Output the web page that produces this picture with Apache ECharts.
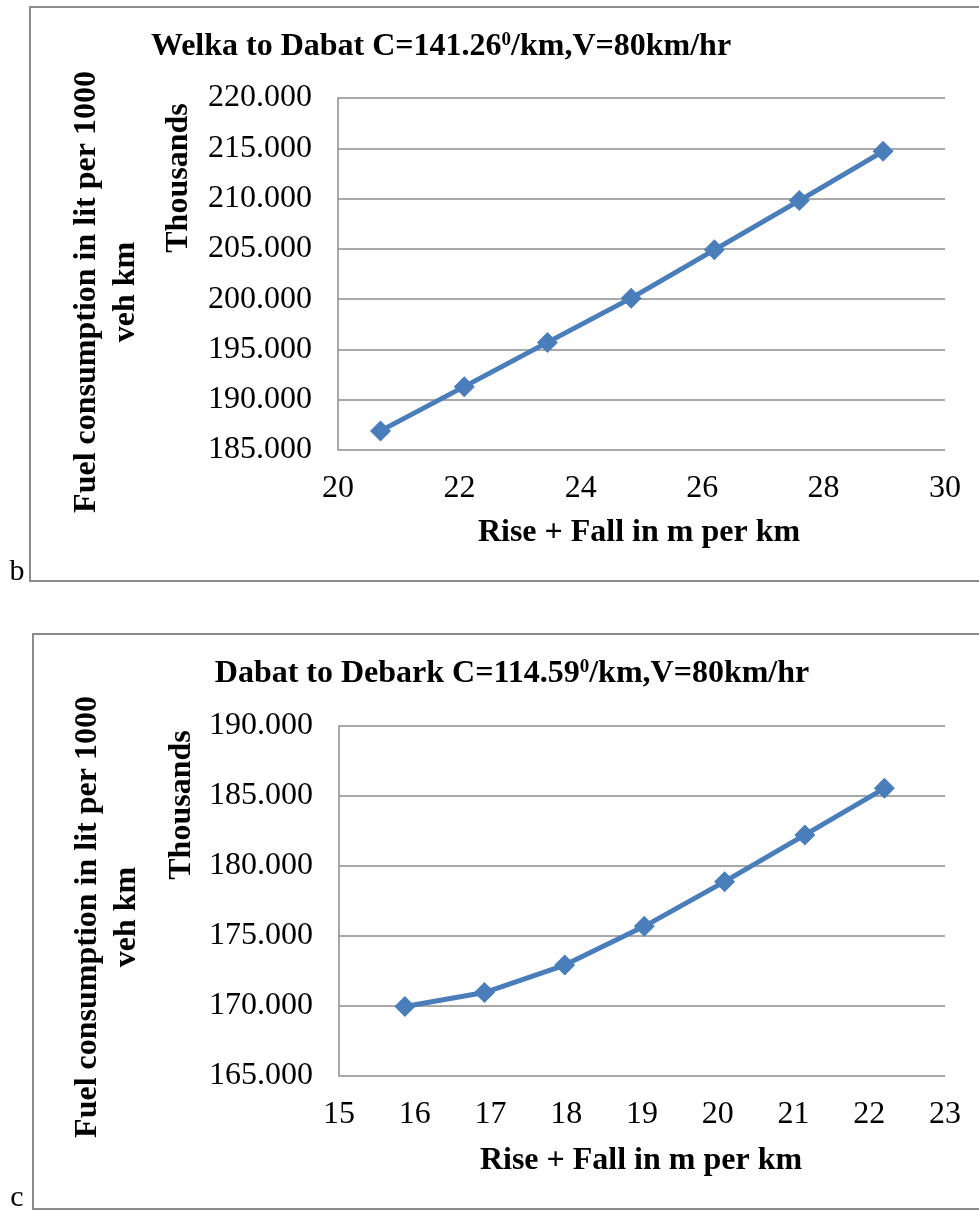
<!DOCTYPE html>
<html>
<head>
<meta charset="utf-8">
<script src="https://cdn.jsdelivr.net/npm/echarts@6/dist/echarts.min.js"></script>
<style>
html,body{margin:0;padding:0;background:#fff;}
#c{width:979px;height:1211px;}
</style>
</head>
<body>
<div id="c"></div>
<script>
// Chart b: Welka to Dabat
const xB = [20.70, 22.08, 23.45, 24.83, 26.20, 27.60, 28.98];
const yB = [186900, 191300, 195700, 200100, 204900, 209800, 214700];
const titleB = 'Welka to Dabat C=141.26{sup|0}/km,V=80km/hr';

// Chart c: Dabat to Debark
const xC = [15.87, 16.92, 17.98, 19.03, 20.09, 21.15, 22.20];
const yC = [169970, 170960, 172920, 175690, 178880, 182220, 185550];
const titleC = 'Dabat to Debark C=114.59{sup|0}/km,V=80km/hr';

const xAxisTitle = 'Rise + Fall in m per km';
const yAxisTitle = 'Fuel consumption in lit per 1000\nveh km';
const unitTitle = 'Thousands';

const SERIF = '"Liberation Serif", "Times New Roman", serif';
const GRID_C = '#8c8c8c';
const LINE_C = '#4a7ebb';

function xAxisCfg(idx, min, max, interval) {
  return {
    type: 'value', gridIndex: idx, min: min, max: max, interval: interval,
    axisLine: { show: false },
    axisTick: { show: false },
    splitLine: { show: false },
    axisLabel: { color: '#000', fontFamily: SERIF, fontSize: 32, margin: 23 }
  };
}
function yAxisCfg(idx, min, max, interval) {
  return {
    type: 'value', gridIndex: idx, min: min, max: max, interval: interval,
    axisLine: { show: true, lineStyle: { color: GRID_C, width: 1.5 } },
    axisTick: { show: false },
    splitLine: { show: true, lineStyle: { color: GRID_C, width: 1.5 } },
    axisLabel: { color: '#000', fontFamily: SERIF, fontSize: 32, margin: 26,
      formatter: v => (v / 1000).toFixed(3) }
  };
}
function seriesCfg(idx, xs, ys) {
  return {
    type: 'line', xAxisIndex: idx, yAxisIndex: idx,
    data: xs.map((x, i) => [x, ys[i]]),
    symbol: 'diamond', symbolSize: 21,
    lineStyle: { color: LINE_C, width: 5 },
    itemStyle: { color: LINE_C },
    animation: false
  };
}
function txt(x, y, text, opts) {
  return Object.assign({
    type: 'text', x: x, y: y, silent: true,
    style: Object.assign({ text: text, fill: '#000', font: 'bold 32px ' + SERIF,
      textAlign: 'center', textVerticalAlign: 'middle' }, opts && opts.style || {})
  }, opts && opts.el || {});
}
const supRich = { sup: { fontSize: 19, fontWeight: 'bold', fontFamily: SERIF, verticalAlign: 'top', padding: [0, 0, 14, 0] } };

const chart = echarts.init(document.getElementById('c'), null, { renderer: 'canvas' });
chart.setOption({
  backgroundColor: '#fff',
  animation: false,
  grid: [
    { left: 338, top: 98, width: 607, height: 352 },
    { left: 339, top: 726, width: 606, height: 350 }
  ],
  xAxis: [ xAxisCfg(0, 20, 30, 2), xAxisCfg(1, 15, 23, 1) ],
  yAxis: [ yAxisCfg(0, 185000, 220000, 5000), yAxisCfg(1, 165000, 190000, 5000) ],
  series: [ seriesCfg(0, xB, yB), seriesCfg(1, xC, yC) ],
  graphic: [
    { type: 'polyline', silent: true, shape: { points: [[1000, 7], [30, 7], [30, 581], [1000, 581]] },
      style: { stroke: GRID_C, lineWidth: 2, fill: null } },
    { type: 'polyline', silent: true, shape: { points: [[1000, 634], [33, 634], [33, 1209], [1000, 1209]] },
      style: { stroke: GRID_C, lineWidth: 2, fill: null } },
    txt(441, 47, titleB, { style: { font: 'bold 32px ' + SERIF, rich: supRich } }),
    txt(512, 674, titleC, { style: { font: 'bold 32px ' + SERIF, rich: supRich } }),
    txt(639, 533, xAxisTitle),
    txt(641, 1161, xAxisTitle),
    txt(179, 178, unitTitle, { el: { rotation: Math.PI / 2 } }),
    txt(182, 805, unitTitle, { el: { rotation: Math.PI / 2 } }),
    txt(106, 292, yAxisTitle, { style: { lineHeight: 39 }, el: { rotation: Math.PI / 2 } }),
    txt(107, 917, yAxisTitle, { style: { lineHeight: 39 }, el: { rotation: Math.PI / 2 } }),
    txt(17, 572, 'b', { style: { font: '30px ' + SERIF } }),
    txt(17, 1198, 'c', { style: { font: '30px ' + SERIF } })
  ]
});
</script>
</body>
</html>
